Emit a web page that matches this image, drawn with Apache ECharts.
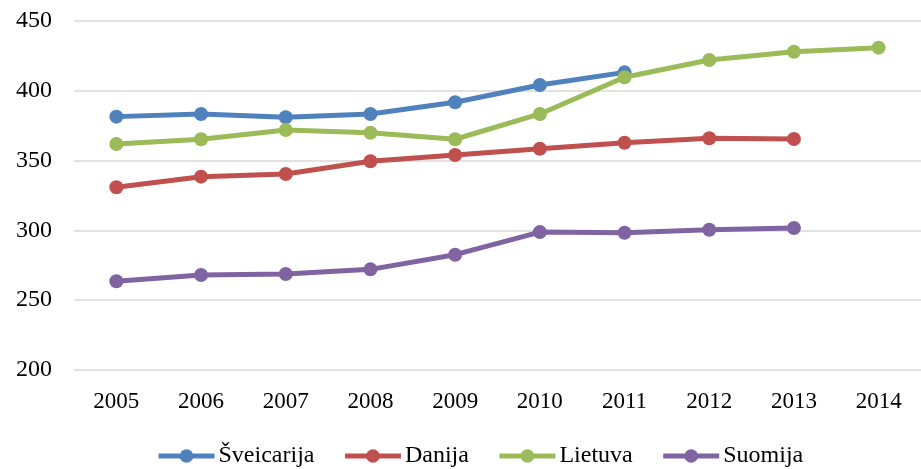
<!DOCTYPE html>
<html>
<head>
<meta charset="utf-8">
<script src="https://cdn.jsdelivr.net/npm/echarts@6/dist/echarts.min.js"></script>
<style>
  html, body { margin: 0; padding: 0; background: #fff; }
  #chart { width: 921px; height: 469px; }
</style>
</head>
<body>
<div id="chart"></div>
<script>
const years = ["2005", "2006", "2007", "2008", "2009", "2010", "2011", "2012", "2013", "2014"];
const sveicarija = [381.5, 383.4, 381.0, 383.4, 391.8, 404.2, 413.2, null, null, null];
const danija = [330.9, 338.5, 340.4, 349.5, 354.0, 358.5, 362.8, 366.0, 365.5, null];
const lietuva = [361.9, 365.3, 371.9, 370.0, 365.3, 383.4, 409.7, 422.1, 428.0, 430.9];
const suomija = [263.6, 268.1, 268.8, 272.1, 282.6, 298.8, 298.3, 300.5, 301.7, null];

const font = "Liberation Serif";
const mkSeries = (name, data, color) => ({
  name: name,
  type: "line",
  data: data,
  symbol: "circle",
  symbolSize: 14,
  connectNulls: false,
  lineStyle: { width: 5, color: color },
  itemStyle: { color: color },
});

let chart = echarts.init(document.getElementById("chart"));
let option = {
  animation: false,
  grid: { left: 74, right: -7, top: 21, bottom: 99 },
  legend: {
    top: 444,
    left: 156,
    padding: 0,
    itemWidth: 56,
    itemHeight: 17,
    itemGap: 28,
    lineStyle: { width: 5 },
    textStyle: { fontFamily: font, fontSize: 24, color: "#000", padding: [0, 0, 0, -1] },
    data: ["Šveicarija", "Danija", "Lietuva", "Suomija"],
  },
  xAxis: {
    type: "category",
    data: years,
    boundaryGap: true,
    axisLine: { show: false },
    axisTick: { show: false },
    axisLabel: { fontFamily: font, fontSize: 23, color: "#000", margin: 20 },
  },
  yAxis: {
    type: "value",
    min: 200,
    max: 450,
    interval: 50,
    axisLine: { show: false },
    axisTick: { show: false },
    axisLabel: { fontFamily: font, fontSize: 24, color: "#000", margin: 22 },
    splitLine: { lineStyle: { color: "#d9d9d9", width: 1.5 } },
  },
  series: [
    mkSeries("Šveicarija", sveicarija, "#4f81bd"),
    mkSeries("Danija", danija, "#c0504d"),
    mkSeries("Lietuva", lietuva, "#9bbb59"),
    mkSeries("Suomija", suomija, "#8064a2"),
  ],
};
chart.setOption(option);
</script>
</body>
</html>
